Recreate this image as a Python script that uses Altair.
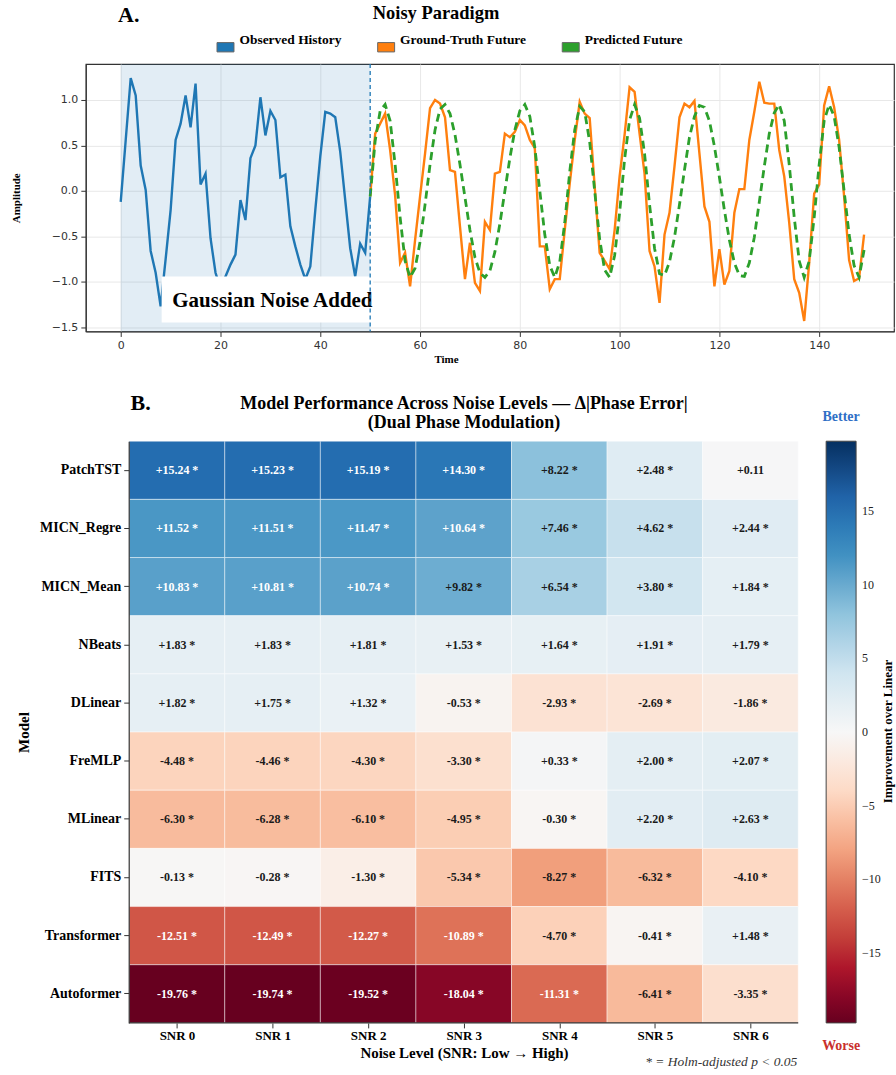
import altair as alt
import pandas as pd

SERIF = "Liberation Serif"
SANS = "DejaVu Sans"

# ---------------- Panel A data ----------------
history_t = list(range(0, 51))
history_v = [-0.12, 0.56, 1.24, 1.05, 0.28, 0.01, -0.66, -0.90, -1.27, -0.75,
             -0.21, 0.56, 0.74, 1.05, 0.70, 1.18, 0.07, 0.19, -0.52, -0.90,
             -1.07, -0.94, -0.81, -0.70, -0.10, -0.32, 0.36, 0.50, 1.03, 0.61,
             0.88, 0.78, 0.15, 0.18, -0.39, -0.61, -0.81, -0.97, -0.83, -0.21,
             0.38, 0.87, 0.85, 0.81, 0.43, -0.10, -0.63, -0.94, -0.58, -0.68,
             -0.06]

future_t = list(range(50, 150))
truth_v = [-0.06, 0.63, 0.74, 0.85, 0.45, -0.05, -0.79, -0.68, -1.05, -0.54,
           -0.06, 0.41, 0.91, 1.00, 0.96, 0.81, 0.23, 0.21, -0.39, -0.97,
           -0.57, -1.01, -1.10, -0.34, -0.43, 0.19, 0.21, 0.63, 0.59, 0.65,
           0.78, 0.72, 0.56, 0.47, -0.61, -0.61, -1.08, -0.97, -0.97, -0.43,
           0.08, 0.56, 0.98, 0.85, 0.80, 0.05, -0.68, -0.77, -0.86, -0.43,
           0.16, 0.62, 1.14, 1.09, 0.63, 0.19, -0.66, -0.83, -1.23, -0.48,
           -0.24, 0.27, 0.81, 0.96, 0.92, 0.99, 0.41, -0.17, -0.34, -1.05,
           -0.64, -1.03, -0.88, -0.24, 0.02, 0.02, 0.56, 0.87, 1.20, 0.97,
           0.96, 0.96, 0.45, 0.16, -0.35, -0.97, -1.12, -1.43, -0.79, -0.03,
           0.07, 0.94, 1.15, 0.92, 0.56, -0.06, -0.76, -0.99, -0.96, -0.48]
pred_v = [-0.06, 0.55, 0.88, 0.95, 0.77, 0.29, -0.29, -0.77, -0.95, -0.85,
          -0.56, -0.15, 0.29, 0.67, 0.90, 0.95, 0.85, 0.62, 0.29, -0.07,
          -0.43, -0.73, -0.90, -0.95, -0.88, -0.67, -0.36, 0.00, 0.36, 0.67,
          0.88, 0.95, 0.82, 0.48, 0.00, -0.48, -0.82, -0.95, -0.78, -0.35,
          0.21, 0.67, 0.93, 0.87, 0.54, 0.00, -0.53, -0.87, -0.95, -0.71,
          -0.24, 0.35, 0.78, 0.95, 0.80, 0.41, -0.15, -0.63, -0.91, -0.93,
          -0.78, -0.51, -0.15, 0.23, 0.59, 0.82, 0.94, 0.92, 0.77, 0.49,
          0.15, -0.21, -0.54, -0.79, -0.93, -0.94, -0.79, -0.51, -0.12, 0.27,
          0.63, 0.86, 0.95, 0.77, 0.29, -0.29, -0.77, -0.95, -0.77, -0.29,
          0.29, 0.77, 0.95, 0.82, 0.48, 0.00, -0.48, -0.82, -0.95, -0.65]

legend_names = ["Observed History", "Ground-Truth Future", "Predicted Future"]
legend_colors = ["#1f77b4", "#ff7f0e", "#2ca02c"]

noise_window = [0, 50]
x_ticks_a = [0, 20, 40, 60, 80, 100, 120, 140]
y_ticks_a = [-1.5, -1.0, -0.5, 0.0, 0.5, 1.0]

# ---------------- Panel B data ----------------
models = ["PatchTST", "MICN_Regre", "MICN_Mean", "NBeats", "DLinear",
          "FreMLP", "MLinear", "FITS", "Transformer", "Autoformer"]
snr_levels = ["SNR 0", "SNR 1", "SNR 2", "SNR 3", "SNR 4", "SNR 5", "SNR 6"]
delta = [
    [15.24, 15.23, 15.19, 14.30, 8.22, 2.48, 0.11],
    [11.52, 11.51, 11.47, 10.64, 7.46, 4.62, 2.44],
    [10.83, 10.81, 10.74, 9.82, 6.54, 3.80, 1.84],
    [1.83, 1.83, 1.81, 1.53, 1.64, 1.91, 1.79],
    [1.82, 1.75, 1.32, -0.53, -2.93, -2.69, -1.86],
    [-4.48, -4.46, -4.30, -3.30, 0.33, 2.00, 2.07],
    [-6.30, -6.28, -6.10, -4.95, -0.30, 2.20, 2.63],
    [-0.13, -0.28, -1.30, -5.34, -8.27, -6.32, -4.10],
    [-12.51, -12.49, -12.27, -10.89, -4.70, -0.41, 1.48],
    [-19.76, -19.74, -19.52, -18.04, -11.31, -6.41, -3.35],
]
significant = [[True] * 7 for _ in models]
significant[0][6] = False
cbar_ticks = [-15, -10, -5, 0, 5, 10, 15]
cbar_limit = 19.76
rdbu = ["#67001f", "#b2182b", "#d6604d", "#f4a582", "#fddbc7", "#f7f7f7",
        "#d1e5f0", "#92c5de", "#4393c3", "#2166ac", "#053061"]
rdbu_stops = [-cbar_limit + k * (2 * cbar_limit / 10) for k in range(11)]

# ---------------- Panel A ----------------
W_A, H_A = 810, 268
x_scale_a = alt.Scale(domain=[-7, 155], nice=False, zero=False)
y_scale_a = alt.Scale(domain=[-1.545, 1.395], nice=False, zero=False)
x_axis_a = alt.Axis(values=x_ticks_a, title="Time", titleFont=SERIF, titleFontWeight="bold",
                    titleFontSize=11, titleColor="black", titlePadding=3, titleX=361,
                    labelFont=SANS, labelFontSize=11, labelColor="#333", tickColor="#333",
                    tickSize=5, domainColor="#333", grid=True, gridColor="#e8e8e8",
                    labelPadding=3)
y_axis_a = alt.Axis(values=y_ticks_a, format=".1f", title="Amplitude", titleFont=SERIF,
                    titleFontWeight="bold", titleFontSize=11, titleColor="black",
                    titlePadding=30, labelFont=SANS, labelFontSize=11, labelColor="#333",
                    tickColor="#333", tickSize=5, domainColor="#333", grid=True,
                    gridColor="#e8e8e8", labelPadding=3)

hist_df = pd.DataFrame({"t": history_t, "v": history_v})
fut_df = pd.DataFrame({"t": future_t, "truth": truth_v, "pred": pred_v})

shade = alt.Chart(pd.DataFrame({"t0": [noise_window[0]], "t1": [noise_window[1]]})).mark_rect(
    color="#1f77b4", opacity=0.13).encode(
    x=alt.X("t0:Q", scale=x_scale_a, axis=x_axis_a), x2="t1:Q",
    y=alt.value(0), y2=alt.value(H_A))

legend_layer = alt.Chart(pd.DataFrame({"series": legend_names})).mark_rect().encode(
    x=alt.value(0), x2=alt.value(0), y=alt.value(0), y2=alt.value(0),
    color=alt.Color("series:N", scale=alt.Scale(domain=legend_names, range=legend_colors),
                    legend=alt.Legend(orient="none", legendX=131, legendY=-26,
                                      direction="horizontal", title=None,
                                      symbolType="M-1,-0.55L1,-0.55L1,0.55L-1,0.55Z",
                                      symbolSize=289, symbolStrokeColor="#666",
                                      symbolStrokeWidth=1, labelFont=SERIF,
                                      labelFontSize=13.5, labelFontWeight="bold",
                                      labelColor="black", labelBaseline="bottom",
                                      labelOffset=5, columnPadding=33, padding=0)))

hist_line = alt.Chart(hist_df).mark_line(color="#1f77b4", strokeWidth=2.4).encode(
    x=alt.X("t:Q", scale=x_scale_a, axis=x_axis_a),
    y=alt.Y("v:Q", scale=y_scale_a, axis=y_axis_a))
truth_line = alt.Chart(fut_df).mark_line(color="#ff7f0e", strokeWidth=2.4).encode(
    x=alt.X("t:Q", scale=x_scale_a, axis=x_axis_a),
    y=alt.Y("truth:Q", scale=y_scale_a, axis=y_axis_a))
pred_line = alt.Chart(fut_df).mark_line(color="#2ca02c", strokeWidth=2.8,
                                        strokeDash=[8, 5]).encode(
    x=alt.X("t:Q", scale=x_scale_a, axis=x_axis_a),
    y=alt.Y("pred:Q", scale=y_scale_a, axis=y_axis_a))

one = pd.DataFrame({"a": [0]})


def note(text, x, y, size, color="black", weight="bold", style="normal", align="center",
         angle=0):
    kw = dict(text=text, font=SERIF, fontSize=size, fontWeight=weight, color=color,
              align=align, baseline="middle")
    if style != "normal":
        kw["fontStyle"] = style
    if angle:
        kw["angle"] = angle
    return alt.Chart(one).mark_text(**kw).encode(x=alt.value(x), y=alt.value(y))


box = alt.Chart(one).mark_rect(fill="white").encode(
    x=alt.value(76), x2=alt.value(288), y=alt.value(213), y2=alt.value(259))
box_text = note("Gaussian Noise Added", 187, 237, 21)
vline = alt.Chart(pd.DataFrame({"t": [noise_window[1]]})).mark_rule(
    color="#1f77b4", strokeWidth=1.3, strokeDash=[4, 3]).encode(
    x=alt.X("t:Q", scale=x_scale_a, axis=x_axis_a))
label_a = note("A.", 43, -49, 22)
title_a = note("Noisy Paradigm", 351, -51, 18.5)

panel_a = alt.layer(shade, legend_layer, hist_line, truth_line, pred_line, box, box_text,
                    vline, label_a, title_a).properties(
    width=W_A, height=H_A,
    view=alt.ViewBackground(stroke="#333", strokeWidth=1.2))

# ---------------- Panel B ----------------
W_B, H_B = 714, 583
rows = []
for i, m in enumerate(models):
    for j, s in enumerate(snr_levels):
        v = delta[i][j]
        lab = ("+" if v > 0 else "") + f"{v:.2f}" + (" *" if significant[i][j] else "")
        rows.append({"model": m, "xc": j, "x0": j - 0.5, "x1": j + 0.5, "value": v,
                     "label": lab, "tc": "white" if abs(v) > 10 else "#1a1a1a"})
heat_df = pd.DataFrame(rows)

x_scale_b = alt.Scale(domain=[-0.954, 6.5], nice=False, zero=False)
x_axis_b = alt.Axis(values=list(range(len(snr_levels))), labelExpr="'SNR ' + datum.value",
                    title="Noise Level (SNR: Low \u2192 High)", titleFont=SERIF,
                    titleFontSize=15, titleFontWeight="bold", titleColor="black",
                    titleX=379, titleY=30, titleBaseline="middle", titleAlign="center",
                    labelFont=SERIF, labelFontSize=13, labelFontWeight="bold",
                    labelColor="black", tickColor="#333", tickSize=5, domain=False,
                    grid=False, labelPadding=2)
y_scale_b = alt.Scale(domain=models, paddingInner=0, paddingOuter=0)
y_axis_b = alt.Axis(offset=-43, title="Model", titleFont=SERIF, titleFontSize=15,
                    titleFontWeight="bold", titleColor="black", titlePadding=8,
                    labelFont=SERIF, labelFontSize=14, labelFontWeight="bold",
                    labelColor="black", tickColor="#333", tickSize=5, domainColor="#333",
                    domainWidth=1.2, labelPadding=3, grid=False)

cells = alt.Chart(heat_df).mark_rect(stroke="white", strokeWidth=1, strokeOpacity=0.45).encode(
    x=alt.X("x0:Q", scale=x_scale_b, axis=x_axis_b), x2="x1:Q",
    y=alt.Y("model:N", sort=models, scale=y_scale_b, axis=y_axis_b),
    color=alt.Color("value:Q", scale=alt.Scale(domain=rdbu_stops, range=rdbu),
                    legend=alt.Legend(orient="none", legendX=742, legendY=0,
                                      direction="vertical", gradientLength=H_B,
                                      gradientThickness=30, values=cbar_ticks, title=None,
                                      labelFont=SERIF, labelFontSize=12, labelColor="#222",
                                      labelOffset=6, gradientStrokeColor="#444",
                                      gradientStrokeWidth=1, padding=0)))
cell_text = alt.Chart(heat_df).mark_text(font=SERIF, fontSize=12, fontWeight="bold").encode(
    x=alt.X("xc:Q", scale=x_scale_b, axis=x_axis_b),
    y=alt.Y("model:N", sort=models, scale=y_scale_b, axis=y_axis_b),
    text="label:N", color=alt.Color("tc:N", scale=None))
bottom_spine = alt.Chart(pd.DataFrame({"a": [-0.5], "b": [6.5]})).mark_rule(
    color="#333", strokeWidth=1.2).encode(
    x=alt.X("a:Q", scale=x_scale_b, axis=x_axis_b), x2="b:Q", y=alt.value(H_B))

label_b = note("B.", 55, -38, 22)
title_b1 = note("Model Performance Across Noise Levels \u2014 \u0394|Phase Error|", 379, -37, 18)
title_b2 = note("(Dual Phase Modulation)", 379, -18, 18)
better = note("Better", 757, -24, 14, color="#2f6fc6")
worse = note("Worse", 757, 606, 14, color="#c9302c")
cbar_title = note("Improvement over Linear", 804, 291, 13, angle=270)
footnote = note("* = Holm-adjusted p < 0.05", 713, 622, 13.5, color="#333", weight="normal",
                style="italic", align="right")

panel_b = alt.layer(cells, cell_text, bottom_spine, label_b, title_b1, title_b2, better,
                    worse, cbar_title, footnote).properties(
    width=W_B, height=H_B,
    view=alt.ViewBackground(stroke="transparent"))

chart = alt.vconcat(panel_a, panel_b, spacing=26).properties(
    padding={"left": 9, "top": 2, "right": 0, "bottom": 0}
).configure(background="white")

chart.save("out.html", embed_options={"renderer": "svg", "actions": False})
